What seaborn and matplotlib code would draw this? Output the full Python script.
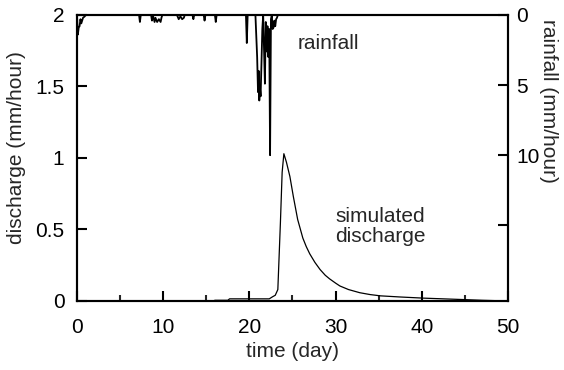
import matplotlib
matplotlib.use("Agg")
import matplotlib.pyplot as plt
import seaborn as sns
import pandas as pd
from matplotlib.ticker import MultipleLocator

# --- data ---
# simulated discharge (mm/hour) against time (day)
q_day = [0, 15.8, 16.0, 17.5, 17.7, 22.3, 22.7, 23.0, 23.3, 23.6, 23.8, 24.0,
         24.3, 24.7, 25.1, 25.6, 26.2, 26.6, 27.0, 27.6, 28.2, 28.8, 29.3,
         30.0, 30.5, 31.5, 32.8, 34.0, 35.2, 37.5, 40.2, 42.5, 44.8, 47.0,
         50.0]
q_val = [0, 0, 0.005, 0.005, 0.015, 0.015, 0.03, 0.04, 0.08, 0.55, 0.9, 1.03,
         0.97, 0.87, 0.73, 0.57, 0.44, 0.38, 0.33, 0.27, 0.22, 0.18, 0.155,
         0.125, 0.105, 0.08, 0.058, 0.045, 0.036, 0.028, 0.02, 0.015, 0.01,
         0.005, 0]

# rainfall (mm/hour), hanging from the top axis
rain_day = [0.0, 0.1, 0.2, 0.3, 0.4, 0.5, 0.7, 0.9, 1.0,
            7.2, 7.3, 7.4, 8.6, 8.7, 8.8, 9.0, 9.1, 9.3, 9.5, 9.7, 9.8, 9.9,
            11.6, 11.8, 12.0, 12.2, 12.4, 12.5, 13.4, 13.5, 13.6, 14.7, 14.8,
            14.9, 16.0, 16.1, 16.2, 19.6, 19.7, 19.8,
            20.7, 20.8, 20.9, 21.0, 21.1, 21.15, 21.2, 21.3, 21.4, 21.5,
            21.6, 21.7, 21.8, 21.9, 22.0, 22.1, 22.2, 22.3, 22.4, 22.5,
            22.6, 22.7, 22.8, 22.9, 23.0, 23.1, 23.2, 23.3, 50.0]
rain_val = [0, 1.4, 0.9, 0.8, 0.3, 0.6, 0.2, 0.1, 0,
            0, 0.5, 0, 0, 0.4, 0, 0.5, 0.2, 0.5, 0.3, 0.5, 0.2, 0,
            0, 0.3, 0.1, 0.3, 0.2, 0, 0, 0.3, 0, 0, 0.4,
            0, 0, 0.5, 0, 0, 2.0, 0,
            0, 1.5, 3.0, 5.5, 4.0, 6.1, 5.0, 5.8, 3.5, 1.0,
            0, 2.5, 4.9, 0.5, 2.6, 0.8, 3.0, 1.0, 10.0, 0.3,
            0, 1.0, 0.9, 0.4, 0.8, 0.3, 0.2, 0, 0]

tick_x = [0, 10, 20, 30, 40, 50]
tick_q = [0, 0.5, 1, 1.5, 2]
tick_q_labels = ["0", "0.5", "1", "1.5", "2"]
tick_r = [0, 5, 10, 15]
tick_r_labels = ["0", "5", "10", ""]

discharge = pd.DataFrame({"day": q_day, "q": q_val})
rain = pd.DataFrame({"day": rain_day, "r": rain_val})

sns.set_theme(style="ticks")
plt.rcParams["font.family"] = ["Liberation Sans", "DejaVu Sans"]
plt.rcParams["axes.linewidth"] = 1.5

fig = plt.figure(figsize=(5.64, 3.70), dpi=100)
ax = fig.add_axes([0.1365, 0.1865, 0.7642, 0.773])

sns.lineplot(data=discharge, x="day", y="q", ax=ax, color="black",
             linewidth=0.9, estimator=None)
ax.set_xlim(0, 50)
ax.set_ylim(0, 2)
ax.set_xticks(tick_x)
ax.set_xticklabels([str(t) for t in tick_x])
ax.xaxis.set_minor_locator(MultipleLocator(5))
ax.set_yticks(tick_q)
ax.set_yticklabels(tick_q_labels)
ax.tick_params(axis="x", which="major", direction="in", length=7,
               width=1.5, labelsize=15, colors="black", pad=12)
ax.tick_params(axis="y", which="major", direction="in", length=7,
               width=1.5, labelsize=15, colors="black", pad=9)
ax.tick_params(axis="x", which="minor", direction="in", length=4, width=1.5)
ax.set_xlabel("time (day)", fontsize=15)
ax.xaxis.set_label_coords(0.5, -0.145)
ax.set_ylabel("discharge (mm/hour)", fontsize=15)
ax.yaxis.set_label_coords(-0.118, 0.535)

ax2 = ax.twinx()
sns.lineplot(data=rain, x="day", y="r", ax=ax2, color="black",
             linewidth=1.3, estimator=None)
ax2.set_ylim(20.4, 0)
ax2.set_yticks(tick_r)
ax2.set_yticklabels(tick_r_labels)
ax2.tick_params(axis="y", direction="in", length=7, width=1.5,
                labelsize=15, colors="black", pad=6)
ax2.set_ylabel("rainfall (mm/hour)", fontsize=15, rotation=270)
ax2.yaxis.set_label_coords(1.115, 0.70)

for a in (ax, ax2):
    for s in a.spines.values():
        s.set_linewidth(1.5)
        s.set_color("black")

ax.text(29.2, 1.80, "rainfall", fontsize=15, ha="center", va="center")
ax.text(35.2, 0.52, "simulated\ndischarge", fontsize=15, ha="center",
        va="center", linespacing=1.1)

fig.savefig("out.png", dpi=100)
